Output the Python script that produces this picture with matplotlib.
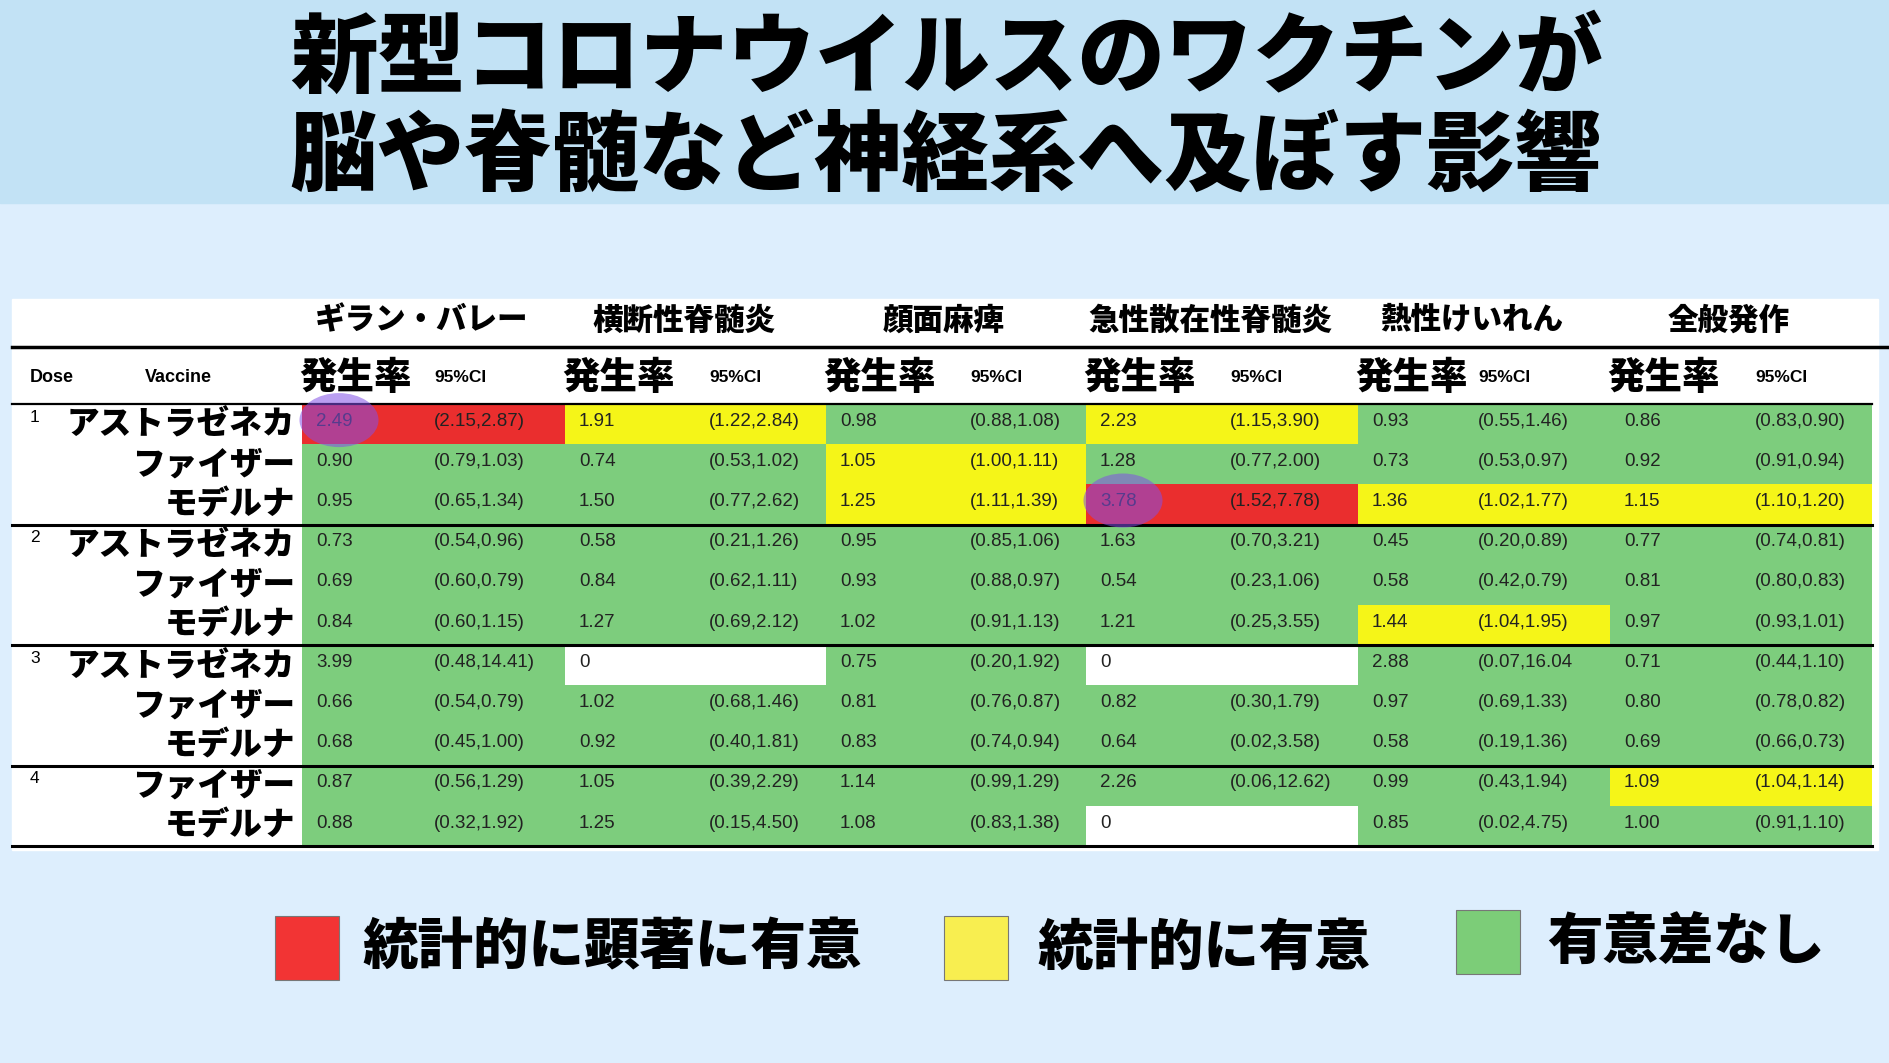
import matplotlib.pyplot as plt
from matplotlib.patches import Rectangle, Ellipse

plt.rcParams['font.family'] = ['Noto Sans CJK JP', 'DejaVu Sans']

title_lines = ['新型コロナウイルスのワクチンが', '脳や脊髄など神経系へ及ぼす影響']
diseases = ['ギラン・バレー', '横断性脊髄炎', '顔面麻痺', '急性散在性脊髄炎', '熱性けいれん', '全般発作']
doses = [1, 1, 1, 2, 2, 2, 3, 3, 3, 4, 4]
vaccines = ['アストラゼネカ', 'ファイザー', 'モデルナ',
            'アストラゼネカ', 'ファイザー', 'モデルナ',
            'アストラゼネカ', 'ファイザー', 'モデルナ',
            'ファイザー', 'モデルナ']
rates = [
    [2.49, 1.91, 0.98, 2.23, 0.93, 0.86],
    [0.90, 0.74, 1.05, 1.28, 0.73, 0.92],
    [0.95, 1.50, 1.25, 3.78, 1.36, 1.15],
    [0.73, 0.58, 0.95, 1.63, 0.45, 0.77],
    [0.69, 0.84, 0.93, 0.54, 0.58, 0.81],
    [0.84, 1.27, 1.02, 1.21, 1.44, 0.97],
    [3.99, 0, 0.75, 0, 2.88, 0.71],
    [0.66, 1.02, 0.81, 0.82, 0.97, 0.80],
    [0.68, 0.92, 0.83, 0.64, 0.58, 0.69],
    [0.87, 1.05, 1.14, 2.26, 0.99, 1.09],
    [0.88, 1.25, 1.08, 0, 0.85, 1.00],
]
cis = [
    ['(2.15,2.87)', '(1.22,2.84)', '(0.88,1.08)', '(1.15,3.90)', '(0.55,1.46)', '(0.83,0.90)'],
    ['(0.79,1.03)', '(0.53,1.02)', '(1.00,1.11)', '(0.77,2.00)', '(0.53,0.97)', '(0.91,0.94)'],
    ['(0.65,1.34)', '(0.77,2.62)', '(1.11,1.39)', '(1.52,7.78)', '(1.02,1.77)', '(1.10,1.20)'],
    ['(0.54,0.96)', '(0.21,1.26)', '(0.85,1.06)', '(0.70,3.21)', '(0.20,0.89)', '(0.74,0.81)'],
    ['(0.60,0.79)', '(0.62,1.11)', '(0.88,0.97)', '(0.23,1.06)', '(0.42,0.79)', '(0.80,0.83)'],
    ['(0.60,1.15)', '(0.69,2.12)', '(0.91,1.13)', '(0.25,3.55)', '(1.04,1.95)', '(0.93,1.01)'],
    ['(0.48,14.41)', '', '(0.20,1.92)', '', '(0.07,16.04', '(0.44,1.10)'],
    ['(0.54,0.79)', '(0.68,1.46)', '(0.76,0.87)', '(0.30,1.79)', '(0.69,1.33)', '(0.78,0.82)'],
    ['(0.45,1.00)', '(0.40,1.81)', '(0.74,0.94)', '(0.02,3.58)', '(0.19,1.36)', '(0.66,0.73)'],
    ['(0.56,1.29)', '(0.39,2.29)', '(0.99,1.29)', '(0.06,12.62)', '(0.43,1.94)', '(1.04,1.14)'],
    ['(0.32,1.92)', '(0.15,4.50)', '(0.83,1.38)', '', '(0.02,4.75)', '(0.91,1.10)'],
]
# R = very significant, Y = significant, G = no difference, W = no data
sig = ['RYGYGG', 'GGYGGG', 'GGYRYY', 'GGGGGG', 'GGGGGG', 'GGGGYG',
       'GWGWGG', 'GGGGGG', 'GGGGGG', 'GGGGGY', 'GGGWGG']
legend_labels = ['統計的に顕著に有意', '統計的に有意', '有意差なし']
legend_keys = ['R', 'Y', 'G']
highlights = [(0, 0), (2, 3)]

cell_colors = {'R': '#ea2e2e', 'Y': '#f5f518', 'G': '#7dcd7d', 'W': 'white'}
legend_colors = {'R': '#f23434', 'Y': '#f8ee50', 'G': '#7ccd78'}

num_font = ['Liberation Sans', 'DejaVu Sans']
heavy = ['Noto Sans CJK JP', 'DejaVu Sans']

# layout in pixels
W, H = 1890, 1063
col_edges = [302, 565, 826, 1086, 1358, 1610, 1872]
ci_off = [132, 144, 144, 144, 120, 145]
row_top0, row_h = 404, 40.2

fig = plt.figure(figsize=(W / 100, H / 100), dpi=100, facecolor='#ddeefd')
ax = fig.add_axes([0, 0, 1, 1])
ax.set_xlim(0, W)
ax.set_ylim(H, 0)
ax.axis('off')

# title band
ax.add_patch(Rectangle((0, 0), W, 203, color='#c2e2f5', zorder=0))
for i, line in enumerate(title_lines):
    ax.text(946, 60 + 98 * i, line, fontsize=63, fontweight='black', family=heavy,
            ha='center', va='center', color='black')

# white table panel
ax.add_patch(Rectangle((12, 299), 1866, 551, color='white', zorder=0))

# header rows
for j, d in enumerate(diseases):
    cx = (col_edges[j] + col_edges[j + 1]) / 2 - 12
    ax.text(cx, 320, d, fontsize=22, fontweight='black', family=heavy,
            ha='center', va='center')
    ax.text(col_edges[j] - 3, 378, '発生率', fontsize=27, fontweight='black', family=heavy,
            ha='left', va='center')
    ax.text(col_edges[j] + ci_off[j], 378, '95%CI', fontsize=12.5, fontweight='bold',
            family=num_font, ha='left', va='center')
ax.text(30, 378, 'Dose', fontsize=13, fontweight='bold', family=num_font, va='center')
ax.text(145, 378, 'Vaccine', fontsize=13, fontweight='bold', family=num_font, va='center')

ax.plot([12, W], [347, 347], color='black', lw=2.5)
ax.plot([12, 1872], [404, 404], color='black', lw=1.6)

# cells
n_rows = len(rates)
for i in range(n_rows):
    top = row_top0 + i * row_h
    cy = top + row_h / 2
    for j in range(len(diseases)):
        x0, x1 = col_edges[j], col_edges[j + 1]
        ax.add_patch(Rectangle((x0, top), x1 - x0, row_h,
                               color=cell_colors[sig[i][j]], lw=0, zorder=1))
        r = rates[i][j]
        ax.text(x0 + 14, cy - 3, '0' if r == 0 else f'{r:.2f}', fontsize=13.5,
                family=num_font, color='#222222', ha='left', va='center', zorder=3)
        ax.text(x0 + ci_off[j], cy - 3, cis[i][j], fontsize=13.5,
                family=num_font, color='#222222', ha='left', va='center', zorder=3)
    ax.text(295, cy, vaccines[i], fontsize=23.5, fontweight='black', family=heavy,
            ha='right', va='center')
    if i == 0 or doses[i] != doses[i - 1]:
        ax.text(30, top + 13, str(doses[i]), fontsize=12.5, family=num_font,
                ha='left', va='center')
    if i == n_rows - 1 or doses[i] != doses[i + 1]:
        ax.plot([12, 1872], [top + row_h, top + row_h], color='black', lw=2.2, zorder=4)

# purple highlight circles
for i, j in highlights:
    cy = row_top0 + (i + 0.5) * row_h - 4
    ax.add_patch(Ellipse((col_edges[j] + 37, cy), 79, 54, color='#8250e6',
                         alpha=0.55, lw=0, zorder=5))

# legend
leg_x = [275, 944, 1456]
leg_y = [948, 948, 942]
text_x = [362, 1037, 1547]
for k, lab, lx, ly, tx in zip(legend_keys, legend_labels, leg_x, leg_y, text_x):
    ax.add_patch(Rectangle((lx, ly - 32), 64, 64, facecolor=legend_colors[k],
                           edgecolor='#777777', lw=0.8))
    ax.text(tx, ly, lab, fontsize=40, fontweight='black', family=heavy,
            ha='left', va='center')

fig.savefig('out.png', dpi=100, facecolor=fig.get_facecolor())
